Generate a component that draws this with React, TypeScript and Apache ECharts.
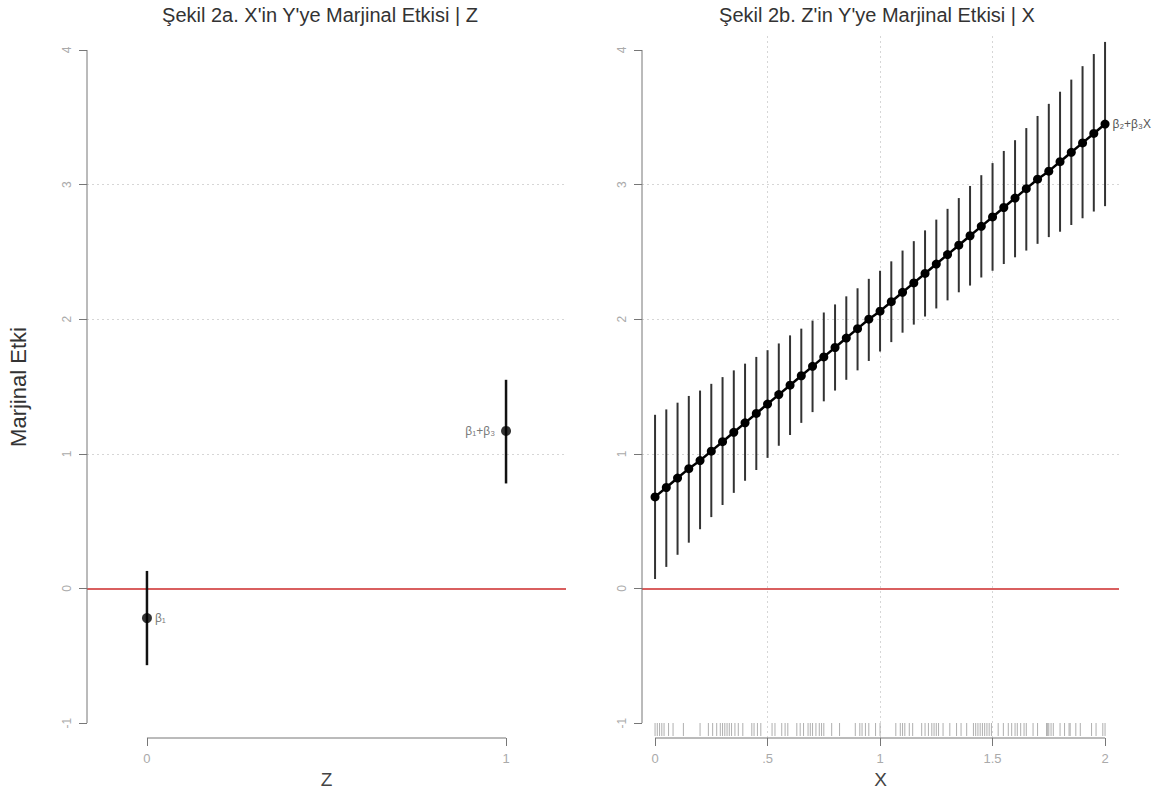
import React, { useEffect, useRef } from "react";
import * as echarts from "echarts";

// ---- Data ----
const zVals = [0, 1];
const zEst = [-0.22, 1.17];
const zLo = [-0.57, 0.78];
const zHi = [0.13, 1.55];
const zPointLabels = ["β₁", "β₁+β₃"];

const xVals = [0, 0.05, 0.1, 0.15, 0.2, 0.25, 0.3, 0.35, 0.4, 0.45, 0.5, 0.55, 0.6, 0.65, 0.7, 0.75, 0.8, 0.85, 0.9, 0.95, 1.0,
  1.05, 1.1, 1.15, 1.2, 1.25, 1.3, 1.35, 1.4, 1.45, 1.5, 1.55, 1.6, 1.65, 1.7, 1.75, 1.8, 1.85, 1.9, 1.95, 2.0];
const xEst = [0.68, 0.75, 0.82, 0.89, 0.95, 1.02, 1.09, 1.16, 1.23, 1.30, 1.37, 1.44, 1.51, 1.58, 1.65, 1.72, 1.79, 1.86, 1.93, 2.00, 2.06,
  2.13, 2.20, 2.27, 2.34, 2.41, 2.48, 2.55, 2.62, 2.69, 2.76, 2.83, 2.90, 2.97, 3.04, 3.10, 3.17, 3.24, 3.31, 3.38, 3.45];
const xLo = [0.07, 0.16, 0.25, 0.34, 0.44, 0.53, 0.62, 0.71, 0.80, 0.88, 0.97, 1.06, 1.14, 1.23, 1.31, 1.39, 1.47, 1.55, 1.62, 1.69, 1.76,
  1.83, 1.90, 1.96, 2.02, 2.08, 2.14, 2.20, 2.25, 2.31, 2.36, 2.41, 2.46, 2.51, 2.56, 2.61, 2.65, 2.70, 2.75, 2.80, 2.84];
const xHi = [1.29, 1.33, 1.38, 1.43, 1.47, 1.52, 1.57, 1.62, 1.67, 1.72, 1.77, 1.82, 1.88, 1.93, 1.99, 2.05, 2.11, 2.17, 2.23, 2.30, 2.36,
  2.43, 2.51, 2.58, 2.66, 2.74, 2.82, 2.90, 2.99, 3.07, 3.16, 3.25, 3.33, 3.42, 3.51, 3.60, 3.69, 3.78, 3.88, 3.97, 4.06];
const xLineLabel = "β₂+β₃X";

const rugX = [0.0, 0.01, 0.02, 0.03, 0.04, 0.06, 0.08, 0.126, 0.2, 0.237, 0.256, 0.274, 0.29, 0.3, 0.31, 0.32, 0.33, 0.34, 0.355, 0.37,
  0.39, 0.43, 0.44, 0.455, 0.47, 0.52, 0.533, 0.563, 0.578, 0.59, 0.63, 0.645, 0.66, 0.68, 0.69, 0.7, 0.715, 0.73, 0.74, 0.75,
  0.785, 0.82, 0.89, 0.91, 0.92, 0.935, 0.95, 0.98, 1.0, 1.07, 1.09, 1.1, 1.11, 1.13, 1.145, 1.185, 1.2, 1.215, 1.23, 1.24, 1.25,
  1.26, 1.28, 1.31, 1.34, 1.36, 1.385, 1.415, 1.425, 1.435, 1.445, 1.455, 1.465, 1.475, 1.485, 1.495, 1.525, 1.548, 1.57, 1.585,
  1.6, 1.61, 1.625, 1.64, 1.65, 1.68, 1.7, 1.74, 1.745, 1.75, 1.76, 1.77, 1.8, 1.82, 1.84, 1.845, 1.87, 1.89, 1.94, 1.96, 1.99, 2.0];

const yTicks = [-1, 0, 1, 2, 3, 4];
const yGridLines = [1, 2, 3];
const zTicks = [0, 1];
const zTickLabels = ["0", "1"];
const xTicks = [0, 0.5, 1, 1.5, 2];
const xTickLabels = ["0", ".5", "1", "1.5", "2"];
const xGridLines = [0.5, 1, 1.5];

const titleLeft = "Şekil 2a. X'in Y'ye Marjinal Etkisi | Z";
const titleRight = "Şekil 2b. Z'in Y'ye Marjinal Etkisi | X";
const yAxisTitle = "Marjinal Etki";
const zAxisTitle = "Z";
const xAxisTitle = "X";

// ---- Axis ranges ----
const Y_MIN = -1.111;
const Y_MAX = 4.104;
const Z_MIN = -0.167;
const Z_MAX = 1.167;
const X_MIN = -0.058;
const X_MAX = 2.062;

const FONT = "Liberation Sans";
const AXIS_GRAY = "#777";
const LABEL_GRAY = "#aaa";

function makeYAxis(gridIndex: number, withName: boolean) {
  return {
    type: "value",
    gridIndex,
    min: Y_MIN,
    max: Y_MAX,
    axisLine: { show: false, onZero: false },
    splitLine: { show: false },
    axisTick: { show: true, customValues: yTicks, length: 8, lineStyle: { color: AXIS_GRAY, width: 1 } },
    axisLabel: {
      customValues: yTicks,
      rotate: 90,
      margin: 14,
      color: LABEL_GRAY,
      fontSize: 12,
      fontFamily: FONT,
      formatter: (v: number) => String(v),
    },
    name: withName ? yAxisTitle : "",
    nameLocation: "middle",
    nameGap: 58,
    nameRotate: 90,
    nameTextStyle: { fontSize: 22, color: "#333", fontFamily: FONT },
  };
}

function makeXAxis(gridIndex: number, min: number, max: number, ticks: number[], labels: string[], name: string) {
  return {
    type: "value",
    gridIndex,
    min,
    max,
    axisLine: { show: false, onZero: false },
    splitLine: { show: false },
    axisTick: { show: true, customValues: ticks, length: 8, lineStyle: { color: AXIS_GRAY, width: 1 } },
    axisLabel: {
      customValues: ticks,
      margin: 14,
      color: LABEL_GRAY,
      fontSize: 13,
      fontFamily: FONT,
      formatter: (v: number) => {
        const i = ticks.findIndex((t) => Math.abs(t - v) < 1e-9);
        return i >= 0 ? labels[i] : "";
      },
    },
    name,
    nameLocation: "middle",
    nameGap: 22,
    nameTextStyle: { fontSize: 19, color: "#444", fontFamily: FONT },
  };
}

function errorBarSeries(idx: number, xs: number[], lo: number[], hi: number[], color: string, width: number) {
  return {
    type: "custom",
    xAxisIndex: idx,
    yAxisIndex: idx,
    silent: true,
    z: 3,
    data: xs.map((x, i) => [x, lo[i], hi[i]]),
    encode: { x: 0, y: [1, 2] },
    renderItem: (params: any, api: any) => {
      const p1 = api.coord([api.value(0), api.value(1)]);
      const p2 = api.coord([api.value(0), api.value(2)]);
      return {
        type: "line",
        shape: { x1: p1[0], y1: p1[1], x2: p2[0], y2: p2[1] },
        style: { stroke: color, lineWidth: width },
      };
    },
  };
}

function frameSeries(idx: number, xmin: number, xFirst: number, xLast: number, vGrid: number[]) {
  const mlData: any[] = yGridLines.map((v) => ({ yAxis: v }));
  vGrid.forEach((v) => mlData.push({ xAxis: v }));
  return [
    {
      type: "line",
      xAxisIndex: idx,
      yAxisIndex: idx,
      silent: true,
      symbol: "none",
      clip: false,
      z: 1,
      data: [[xmin, yTicks[0]], [xmin, yTicks[yTicks.length - 1]]],
      lineStyle: { color: AXIS_GRAY, width: 1 },
      markLine: {
        silent: true,
        symbol: "none",
        z: 1,
        label: { show: false },
        lineStyle: { type: [2, 3], color: "#d6d6d6", width: 1 },
        data: mlData,
      },
    },
    {
      type: "line",
      xAxisIndex: idx,
      yAxisIndex: idx,
      silent: true,
      symbol: "none",
      clip: false,
      z: 1,
      data: [[xFirst, Y_MIN], [xLast, Y_MIN]],
      lineStyle: { color: AXIS_GRAY, width: 1 },
      markLine: {
        silent: true,
        symbol: "none",
        z: 1,
        label: { show: false },
        lineStyle: { type: "solid", color: "#cc2a2a", width: 1.5 },
        data: [{ yAxis: 0 }],
      },
    },
  ];
}

const labelStyle = { color: "#555", fontSize: 12, fontFamily: FONT };

export default function App() {
  const ref = useRef<HTMLDivElement>(null);
  useEffect(() => {
    if (!ref.current) return;
    const chart = echarts.init(ref.current, undefined, { renderer: "svg" });
    const option: any = {
      animation: false,
      backgroundColor: "#fff",
      textStyle: { fontFamily: FONT },
      grid: [
        { left: 87, top: 36, right: 593, bottom: 51, containLabel: false, outerBoundsMode: "none" },
        { left: 642, top: 36, right: 40, bottom: 51, containLabel: false, outerBoundsMode: "none" },
      ],
      xAxis: [
        makeXAxis(0, Z_MIN, Z_MAX, zTicks, zTickLabels, zAxisTitle),
        makeXAxis(1, X_MIN, X_MAX, xTicks, xTickLabels, xAxisTitle),
      ],
      yAxis: [makeYAxis(0, true), makeYAxis(1, false)],
      graphic: [
        {
          type: "text",
          x: 320,
          y: 15,
          style: { text: titleLeft, fontSize: 20, fill: "#333", fontFamily: FONT, align: "center", verticalAlign: "middle" },
        },
        {
          type: "text",
          x: 877,
          y: 15,
          style: { text: titleRight, fontSize: 20, fill: "#333", fontFamily: FONT, align: "center", verticalAlign: "middle" },
        },
      ],
      series: [
        ...frameSeries(0, Z_MIN, zTicks[0], zTicks[zTicks.length - 1], []),
        ...frameSeries(1, X_MIN, xTicks[0], xTicks[xTicks.length - 1], xGridLines),
        // rug
        {
          type: "custom",
          xAxisIndex: 1,
          yAxisIndex: 1,
          silent: true,
          clip: false,
          z: 2,
          data: rugX.map((v) => [v, Y_MIN]),
          encode: { x: 0, y: 1 },
          renderItem: (params: any, api: any) => {
            const p = api.coord([api.value(0), api.value(1)]);
            return {
              type: "line",
              shape: { x1: p[0], y1: p[1] - 2, x2: p[0], y2: p[1] - 15 },
              style: { stroke: "#9a9a9a", lineWidth: 0.8 },
            };
          },
        },
        errorBarSeries(0, zVals, zLo, zHi, "#111", 2.5),
        errorBarSeries(1, xVals, xLo, xHi, "#333", 2),
        {
          type: "scatter",
          xAxisIndex: 0,
          yAxisIndex: 0,
          z: 4,
          symbol: "circle",
          symbolSize: 10,
          itemStyle: { color: "#000" },
          data: zVals.map((z, i) => ({
            value: [z, zEst[i]],
            label: {
              show: true,
              position: i === 0 ? "right" : "left",
              distance: i === 0 ? 3 : 6,
              formatter: zPointLabels[i],
              ...labelStyle,
            },
          })),
        },
        {
          type: "line",
          xAxisIndex: 1,
          yAxisIndex: 1,
          z: 4,
          symbol: "circle",
          symbolSize: 9,
          showAllSymbol: true,
          lineStyle: { color: "#000", width: 2.5 },
          itemStyle: { color: "#000" },
          data: xVals.map((x, i) => ({
            value: [x, xEst[i]],
            label:
              i === xVals.length - 1
                ? { show: true, position: "right", distance: 3, formatter: xLineLabel, ...labelStyle }
                : { show: false },
          })),
        },
      ],
    };
    chart.setOption(option);
    return () => chart.dispose();
  }, []);
  return <div ref={ref} style={{ position: "fixed", left: 0, top: 0, width: 1159, height: 789 }} />;
}
